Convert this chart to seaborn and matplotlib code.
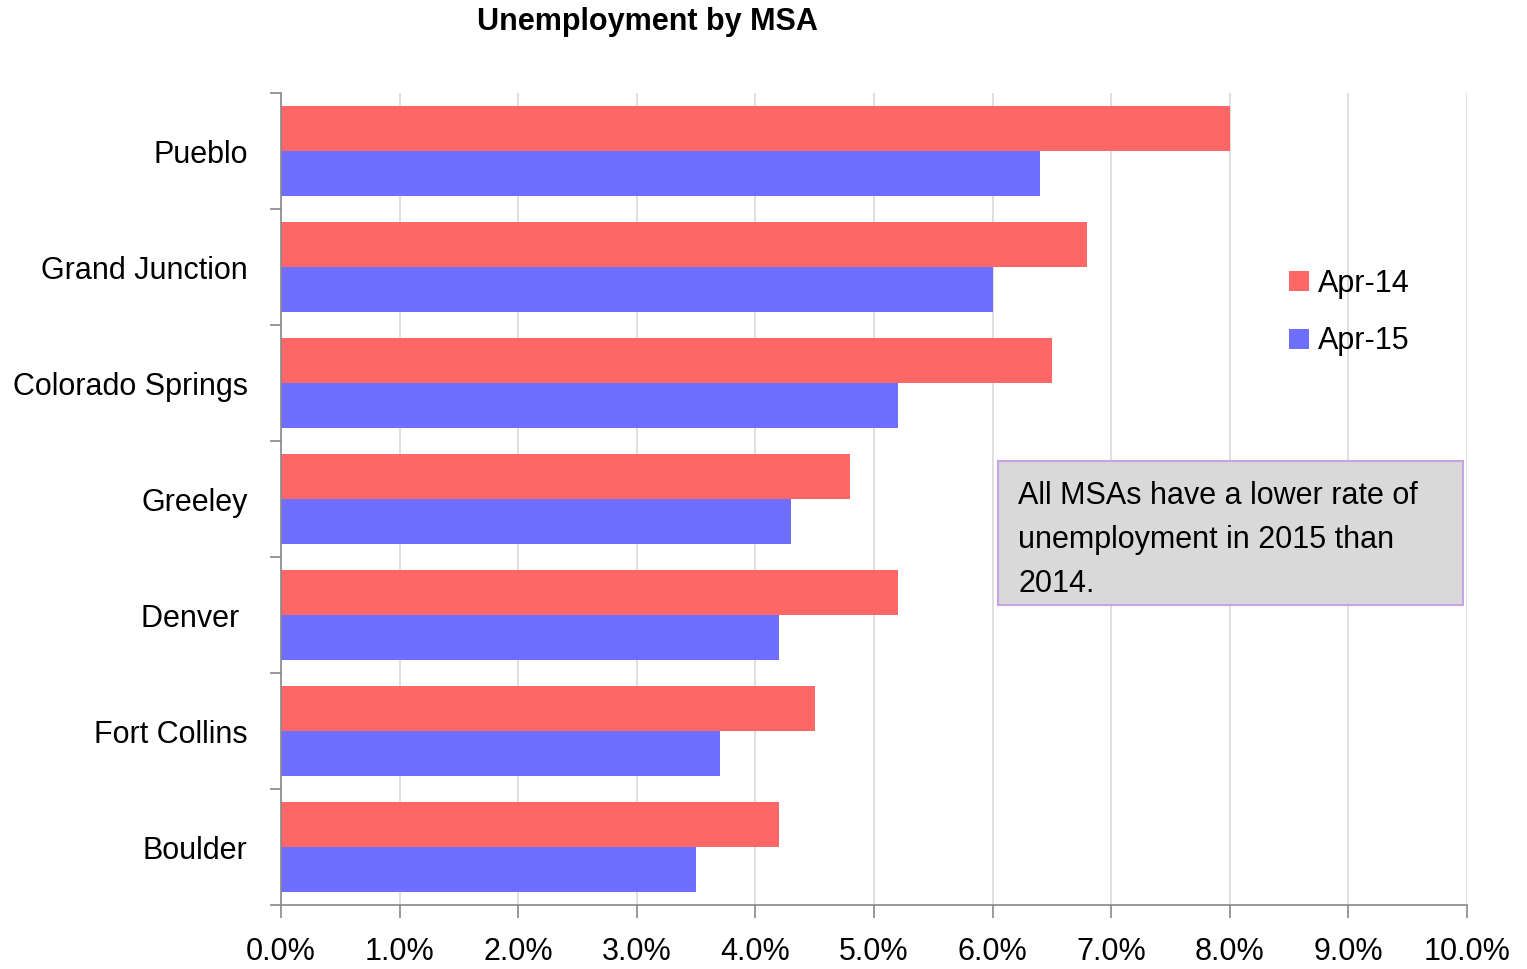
import matplotlib
matplotlib.use("Agg")
import matplotlib.pyplot as plt
from matplotlib.ticker import FixedLocator, FuncFormatter
from matplotlib.patches import Patch, Rectangle
import seaborn as sns
import pandas as pd

msas = ["Pueblo", "Grand Junction", "Colorado Springs", "Greeley", "Denver ", "Fort Collins", "Boulder"]
apr14 = [8.0, 6.8, 6.5, 4.8, 5.2, 4.5, 4.2]
apr15 = [6.4, 6.0, 5.2, 4.3, 4.2, 3.7, 3.5]
series = ["Apr-14", "Apr-15"]
colors = ["#FF6666", "#6E6EFF"]
title = "Unemployment by MSA"
note = "All MSAs have a lower rate of\nunemployment in 2015 than\n2014."

df = pd.DataFrame({
    "MSA": msas * 2,
    "Rate": apr14 + apr15,
    "Period": [series[0]] * len(msas) + [series[1]] * len(msas),
})

sns.set_style("white")
plt.rcParams["font.family"] = ["Liberation Sans", "DejaVu Sans"]
plt.rcParams["text.color"] = "black"
plt.rcParams["xtick.color"] = "black"
plt.rcParams["ytick.color"] = "black"

FS = 22
fig = plt.figure(figsize=(15.27, 9.69), dpi=100)
ax = fig.add_axes([281/1527, 1-905/969, (1467-281)/1527, (905-93)/969])

sns.barplot(data=df, y="MSA", x="Rate", hue="Period", orient="h",
            palette=colors, width=0.77, ax=ax, legend=False, saturation=1,
            linewidth=0)

ax.set_xlim(0, 10)
ax.set_ylim(len(msas) - 0.5, -0.5)
ax.set_xticks(range(0, 11))
ax.xaxis.set_major_formatter(FuncFormatter(lambda v, p: f"{v:.1f}%"))
ax.grid(axis="x", color="#D9D9D9", linewidth=1.2)
ax.set_axisbelow(True)
ax.set_xlabel("")
ax.set_ylabel("")

for s in ["top", "right"]:
    ax.spines[s].set_visible(False)
for s in ["left", "bottom"]:
    ax.spines[s].set_color("#888888")
    ax.spines[s].set_linewidth(1.2)

ax.tick_params(axis="x", which="major", length=9, width=1.2, color="#888888",
               labelsize=FS, labelcolor="black", pad=14, bottom=True)
ax.tick_params(axis="y", which="major", length=0, labelsize=FS, labelcolor="black", pad=24)
ax.yaxis.set_minor_locator(FixedLocator([i - 0.5 for i in range(len(msas) + 1)]))
ax.tick_params(axis="y", which="minor", length=8, width=1.2, color="#888888", left=True)

fig.text(647/1527, 1-22/969, title, ha="center", va="center",
         fontsize=FS, fontweight="bold", color="black")

handles = [Patch(facecolor=c, edgecolor="none") for c in colors]
fig.legend(handles, series, loc="upper left", bbox_to_anchor=(1289/1527, 1-269/969),
           frameon=False, fontsize=FS, handlelength=0.65, handleheight=0.65,
           handletextpad=0.3, labelspacing=0.9, borderaxespad=0, borderpad=0)

fig.patches.append(Rectangle((998/1527, 1-605/969), (1463-998)/1527, (605-461)/969,
                             transform=fig.transFigure, facecolor="#D9D9D9",
                             edgecolor="#C8A2E8", linewidth=1.5, zorder=5))
fig.text(1018/1527, 1-540/969, note, ha="left", va="center", fontsize=FS,
         linespacing=1.62, color="black", zorder=6)

fig.savefig("out.png", dpi=100)
